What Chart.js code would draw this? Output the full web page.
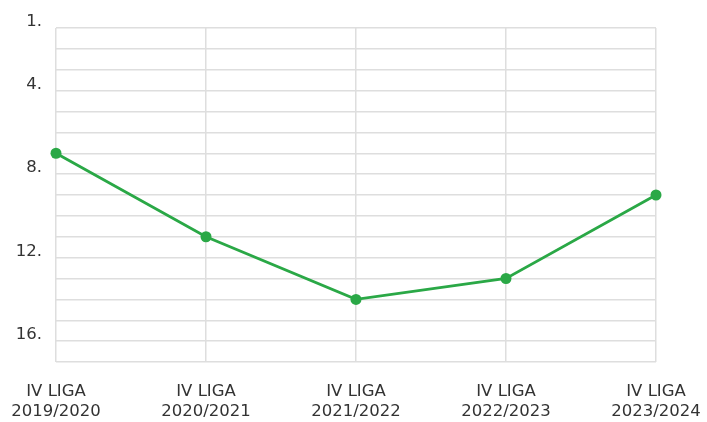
<!DOCTYPE html>
<html>
<head>
<meta charset="utf-8">
<script src="https://cdn.jsdelivr.net/npm/chart.js@4"></script>
<style>
  html, body { margin: 0; padding: 0; background: #fff; }
  #wrap { width: 707px; height: 422px; }
</style>
</head>
<body>
<div id="wrap"><canvas id="chart"></canvas></div>
<script>
// league seasons and table position (lower is better, so the axis is reversed)
const seasons = [
    ['IV LIGA', '2019/2020'],
    ['IV LIGA', '2020/2021'],
    ['IV LIGA', '2021/2022'],
    ['IV LIGA', '2022/2023'],
    ['IV LIGA', '2023/2024']
];
const positions = [7, 11, 14, 13, 9];
const shownTicks = [1, 4, 8, 12, 16]; // only these positions get a label

const green = '#2aa846';
const gridColor = '#dedede';
const textColor = '#333333';
const labelFont = { family: 'DejaVu Sans', size: 16.5, lineHeight: 1.22 };

new Chart(document.getElementById('chart'), {
    type: 'line',
    data: {
        labels: seasons,
        datasets: [{
            label: 'Pozycja',
            data: positions,
            borderColor: green,
            backgroundColor: green,
            borderWidth: 2.8,
            tension: 0,
            pointRadius: 5.5,
            pointHoverRadius: 6,
            pointBackgroundColor: green,
            pointBorderWidth: 0
        }]
    },
    options: {
        responsive: true,
        maintainAspectRatio: false,
        animation: false,
        layout: { padding: { top: 28, right: 51, left: 0, bottom: 0 } },
        scales: {
            x: {
                offset: false,
                grid: { color: gridColor, lineWidth: 1.5, drawTicks: false },
                border: { display: false },
                ticks: {
                    color: textColor,
                    font: labelFont,
                    padding: 20,
                    maxRotation: 0,
                    autoSkip: false
                },
                afterFit: scale => {
                    scale.height = 60;
                    // labels may overhang the plot edges, like in the original
                    scale.paddingLeft = 0;
                    scale.paddingRight = 0;
                }
            },
            y: {
                reverse: true,
                min: 1,
                max: 17,
                grid: { color: gridColor, lineWidth: 1.5, drawTicks: false },
                border: { display: false },
                ticks: {
                    stepSize: 1,
                    autoSkip: false,
                    color: textColor,
                    font: labelFont,
                    padding: 14,
                    labelOffset: -6,
                    callback: value => shownTicks.includes(value) ? value + '.' : ''
                },
                afterFit: scale => {
                    scale.width = 56;
                    scale.paddingTop = 0;
                    scale.paddingBottom = 0;
                }
            }
        },
        plugins: {
            legend: { display: false },
            tooltip: { enabled: false }
        }
    }
});
</script>
</body>
</html>
